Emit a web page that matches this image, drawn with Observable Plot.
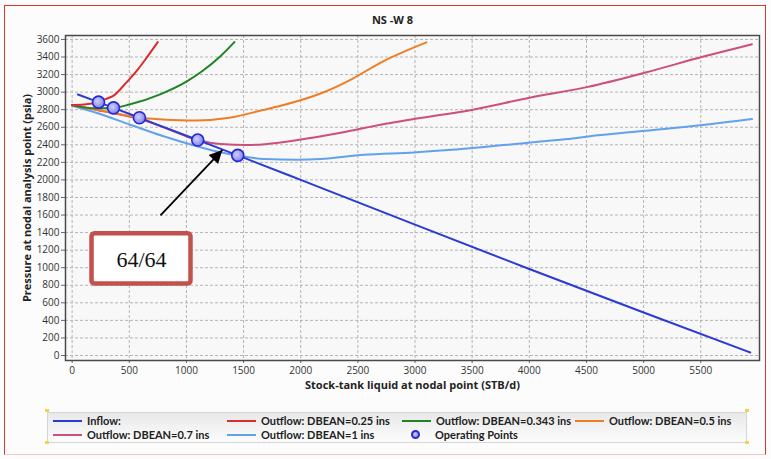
<!DOCTYPE html>
<html>
<head>
<meta charset="utf-8">
<script src="https://cdn.jsdelivr.net/npm/d3@7"></script>
<script src="https://cdn.jsdelivr.net/npm/@observablehq/plot@0.6"></script>
<style>
  html, body { margin: 0; padding: 0; background: #fcfcfc; }
  #wrap { position: relative; width: 771px; height: 459px; overflow: hidden; font-family: "Open Sans", "Noto Sans", sans-serif; }
  #wrap svg { position: absolute; left: 0; top: 0; }
  #outer { position: absolute; left: 4px; top: 5px; width: 762px; height: 450px; border: 1px solid #d23a32; border-bottom-color: #f2c8c4; box-sizing: border-box; pointer-events: none; }
  #legend { position: absolute; left: 47px; top: 412px; width: 700px; height: 31px; box-sizing: border-box;
            border: 1px solid #d6d6d6; background: linear-gradient(#e8e8e8, #f7f7f7 70%, #fbfbfb); }
  .item { position: absolute; height: 13px; font-family: Lato, "Open Sans", sans-serif; font-size: 11px; font-weight: 700; color: #222; line-height: 13px; white-space: nowrap; }
  .sw { position: absolute; left: 0; top: 6px; width: 29px; height: 2px; }
  .lbl { position: absolute; top: 0px; }
  .dotsw { position: absolute; left: 0px; top: 2px; width: 9px; height: 9px; border-radius: 50%; border: 2px solid #2828d8;
           background: radial-gradient(circle at 40% 40%, #c8c8ff, #8a8af0); box-sizing: border-box; }
  .pin { position: absolute; width: 4px; height: 3px; background: #f3d24a; }
</style>
</head>
<body>
<div id="wrap"></div>
<script>
// Well NS -W 8: inflow (IPR) and outflow (VLP) curves for several bean sizes
const chartTitle = "NS -W 8";
const xLabel = "Stock-tank liquid at nodal point (STB/d)";
const yLabel = "Pressure at nodal analysis point (psia)";

const xTicks = [0, 500, 1000, 1500, 2000, 2500, 3000, 3500, 4000, 4500, 5000, 5500];
const yTicks = [0, 200, 400, 600, 800, 1000, 1200, 1400, 1600, 1800, 2000, 2200, 2400, 2600, 2800, 3000, 3200, 3400, 3600];

// Inflow
const inflowQ = [50, 231, 362, 589, 1099, 1449, 2000, 3000, 4000, 5000, 5933];
const inflowP = [2973, 2886, 2821, 2708, 2454, 2279, 2000, 1490, 985, 490, 34];

// Outflow, DBEAN = 0.25 ins
const bean025Q = [0, 100, 231, 297, 356, 472, 574, 662, 749];
const bean025P = [2852, 2860, 2886, 2923, 2954, 3106, 3257, 3410, 3569];

// Outflow, DBEAN = 0.343 ins
const bean0343Q = [0, 200, 362, 500, 770, 1000, 1140, 1290, 1420];
const bean0343P = [2852, 2815, 2821, 2858, 2975, 3120, 3240, 3400, 3570];

// Outflow, DBEAN = 0.5 ins
const bean05Q = [0, 300, 589, 793, 1084, 1376, 1667, 1824, 2173, 2456, 2700, 3100];
const bean05P = [2852, 2780, 2708, 2689, 2677, 2708, 2795, 2844, 2984, 3155, 3337, 3567];

// Outflow, DBEAN = 0.7 ins
const bean07Q = [0, 300, 600, 850, 1099, 1300, 1533, 1824, 2115, 2407, 2698, 2990, 3505, 4012, 4514, 5016, 5516, 5948];
const bean07P = [2852, 2775, 2690, 2575, 2454, 2408, 2397, 2427, 2484, 2552, 2628, 2693, 2799, 2939, 3060, 3223, 3402, 3546];

// Outflow, DBEAN = 1 ins
const bean1Q = [0, 210, 502, 793, 1084, 1317, 1449, 1678, 1970, 2174, 2552, 2990, 3503, 4010, 4331, 4514, 5016, 5516, 5948];
const bean1P = [2845, 2765, 2632, 2500, 2386, 2309, 2279, 2238, 2230, 2238, 2287, 2313, 2363, 2427, 2465, 2495, 2560, 2625, 2693];

// Operating points (inflow / outflow intersections)
const opQ = [231, 362, 589, 1099, 1449];
const opP = [2886, 2821, 2708, 2454, 2279];

// Callout for the 64/64 bean
const calloutText = "64/64";
const calloutBox = {x1: 174, x2: 1040, y1: 814, y2: 1387};
const calloutArrow = {x1: 773, y1: 1595, x2: 1314, y2: 2340};

const series = [
  {name: "Inflow:", color: "#2a3ad2", q: inflowQ, p: inflowP},
  {name: "Outflow: DBEAN=0.25 ins", color: "#da2c2c", q: bean025Q, p: bean025P},
  {name: "Outflow: DBEAN=0.343 ins", color: "#1f8424", q: bean0343Q, p: bean0343P},
  {name: "Outflow: DBEAN=0.5 ins", color: "#ef7d25", q: bean05Q, p: bean05P},
  {name: "Outflow: DBEAN=0.7 ins", color: "#cc4f7e", q: bean07Q, p: bean07P},
  {name: "Outflow: DBEAN=1 ins", color: "#62a2ec", q: bean1Q, p: bean1P}
];
// draw order: outflows first, inflow on top
const drawOrder = [5, 4, 3, 2, 1, 0];

const opPoints = opQ.map((q, i) => ({q, p: opP[i]}));

const lineMarks = drawOrder.map(k => {
  const s = series[k];
  const rows = s.q.map((q, i) => ({q, p: s.p[i]}));
  return Plot.line(rows, {x: "q", y: "p", stroke: s.color, strokeWidth: 2, curve: "monotone-x"});
});

const plot = Plot.plot({
  width: 771,
  height: 459,
  marginLeft: 65,
  marginRight: 12,
  marginTop: 35,
  marginBottom: 99,
  style: {background: "transparent", fontFamily: "'Open Sans', 'Noto Sans', sans-serif", fontSize: "10px", color: "#333"},
  x: {domain: [-58, 6014]},
  y: {domain: [-57, 3645]},
  marks: [
    Plot.frame({fill: "#f8f8f8", stroke: null}),
    Plot.gridX(xTicks, {stroke: "#b4b4b4", strokeOpacity: 1, strokeDasharray: "3,2"}),
    Plot.gridY(yTicks, {stroke: "#b4b4b4", strokeOpacity: 1, strokeDasharray: "3,2"}),
    Plot.axisX(xTicks, {tickFormat: d => String(d), tickSize: 3, tickPadding: 3, label: null, stroke: "#666"}),
    Plot.axisY(yTicks, {tickFormat: d => String(d), tickSize: 4, tickPadding: 2, label: null, stroke: "#666"}),
    ...lineMarks,
    Plot.dot(opPoints, {x: "q", y: "p", r: 6, fill: "url(#opfill)", stroke: "#2626d6", strokeWidth: 1.6}),
    Plot.frame({stroke: "#4a4a4a", strokeWidth: 1.5}),
    Plot.rect([calloutBox], {x1: "x1", x2: "x2", y1: "y1", y2: "y2", fill: "#ffffff", stroke: "#c2504c", strokeWidth: 4.5, rx: 3}),
    Plot.text([calloutText], {x: (calloutBox.x1 + calloutBox.x2) / 2, y: (calloutBox.y1 + calloutBox.y2) / 2,
      fontFamily: "'Liberation Serif', 'DejaVu Serif', serif", fontSize: 22, fill: "#111", dy: 1}),
    Plot.link([calloutArrow], {x1: "x1", y1: "y1", x2: "x2", y2: "y2", stroke: "#000", strokeWidth: 1.8, className: "callout-arrow"}),
    Plot.text([chartTitle], {frameAnchor: "top", dx: -20, dy: -15, lineAnchor: "middle", fontWeight: "bold", fontSize: 11, fill: "#222"}),
    Plot.text([yLabel], {frameAnchor: "left", dx: -38, rotate: -90, textAnchor: "middle", lineAnchor: "middle", fontWeight: "bold", fontSize: 11, fill: "#222"}),
    Plot.text([xLabel], {frameAnchor: "bottom", dy: 25, lineAnchor: "middle", fontWeight: "bold", fontSize: 11, fill: "#222"})
  ]
});

// gradient for operating point markers and a filled arrow head
const svg = d3.select(plot);
const defs = svg.insert("defs", ":first-child");
const grad = defs.append("radialGradient").attr("id", "opfill").attr("cx", "40%").attr("cy", "40%").attr("r", "60%");
grad.append("stop").attr("offset", "0%").attr("stop-color", "#cfcfff");
grad.append("stop").attr("offset", "100%").attr("stop-color", "#8484ee");
defs.append("marker").attr("id", "arrowhead").attr("viewBox", "0 0 10 10")
  .attr("refX", 10).attr("refY", 5).attr("markerUnits", "userSpaceOnUse")
  .attr("markerWidth", 16).attr("markerHeight", 13).attr("orient", "auto")
  .append("path").attr("d", "M0,0L10,5L0,10Z").attr("fill", "#000");
svg.selectAll(".callout-arrow path").attr("marker-end", "url(#arrowhead)");

const wrap = document.getElementById("wrap");
wrap.appendChild(plot);

const outer = document.createElement("div");
outer.id = "outer";
wrap.appendChild(outer);

// legend
const legend = document.createElement("div");
legend.id = "legend";
wrap.appendChild(legend);
const legendSlots = [
  {left: 5, top: 1}, {left: 179, top: 1}, {left: 354, top: 1}, {left: 527, top: 1},
  {left: 5, top: 15}, {left: 179, top: 15}
];
series.forEach((s, i) => {
  const slot = legendSlots[i];
  const it = document.createElement("div");
  it.className = "item";
  it.style.left = slot.left + "px";
  it.style.top = slot.top + "px";
  it.innerHTML = `<span class="sw" style="background:${s.color}"></span><span class="lbl" style="left:34px">${s.name}</span>`;
  legend.appendChild(it);
});
const opItem = document.createElement("div");
opItem.className = "item";
opItem.style.left = "363px";
opItem.style.top = "15px";
opItem.innerHTML = `<span class="dotsw"></span><span class="lbl" style="left:24px">Operating Points</span>`;
legend.appendChild(opItem);

[[45, 409], [45, 441], [745, 409], [745, 441]].forEach(([l, t]) => {
  const p = document.createElement("div");
  p.className = "pin";
  p.style.left = l + "px";
  p.style.top = t + "px";
  wrap.appendChild(p);
});
</script>
</body>
</html>
